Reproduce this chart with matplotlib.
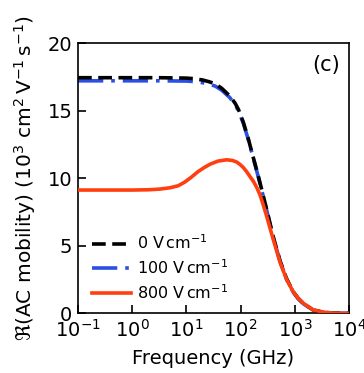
import numpy as np
import matplotlib
matplotlib.use("Agg")
import matplotlib.pyplot as plt

# log10 of frequency (GHz) and real AC mobility (10^3 cm^2 V^-1 s^-1)
logf_0 = [-1.0, 0.0, 0.5, 1.0, 1.13, 1.3, 1.42, 1.53, 1.65, 1.80, 1.90, 1.96, 2.05, 2.14,
          2.23, 2.33, 2.40, 2.48, 2.60, 2.73, 2.85, 2.97, 3.06, 3.16, 3.34, 3.59, 3.8, 4.0]
mu_0 = [17.45, 17.45, 17.45, 17.42, 17.38, 17.28, 17.15, 17.0, 16.67, 16.1, 15.55, 15.1, 14.15, 12.95,
        11.6, 10.1, 9.0, 7.7, 5.7, 3.85, 2.55, 1.6, 1.12, 0.72, 0.24, 0.05, 0.01, 0.0]

logf_100 = [-1.0, 0.0, 0.5, 1.0, 1.13, 1.3, 1.42, 1.53, 1.65, 1.80, 1.90, 1.96, 2.05, 2.14,
            2.23, 2.33, 2.40, 2.48, 2.60, 2.73, 2.85, 2.97, 3.06, 3.16, 3.34, 3.59, 3.8, 4.0]
mu_100 = [17.22, 17.22, 17.22, 17.2, 17.17, 17.08, 16.97, 16.83, 16.53, 15.98, 15.45, 15.0, 14.08, 12.9,
          11.55, 10.05, 8.95, 7.65, 5.65, 3.82, 2.52, 1.58, 1.1, 0.7, 0.23, 0.05, 0.01, 0.0]

logf_800 = [-1.0, -0.5, 0.0, 0.3, 0.51, 0.7, 0.85, 0.97, 1.09, 1.21, 1.33, 1.44, 1.58, 1.74,
            1.85, 1.93, 1.99, 2.05, 2.11, 2.17, 2.24, 2.30, 2.36, 2.42, 2.48, 2.60, 2.73,
            2.85, 2.97, 3.06, 3.16, 3.34, 3.59, 3.8, 4.0]
mu_800 = [9.13, 9.13, 9.13, 9.15, 9.2, 9.3, 9.45, 9.72, 10.08, 10.48, 10.8, 11.05, 11.27, 11.37,
          11.32, 11.2, 11.02, 10.8, 10.5, 10.15, 9.75, 9.3, 8.75, 8.0, 7.2, 5.5, 3.75,
          2.5, 1.6, 1.12, 0.74, 0.25, 0.05, 0.01, 0.0]

labels = [r"0 V$\,$cm$^{-1}$", r"100 V$\,$cm$^{-1}$", r"800 V$\,$cm$^{-1}$"]
colors = ["black", "#2b4ee3", "#ff3f10"]

fig = plt.figure(figsize=(3.64, 3.73), dpi=100)
ax = fig.add_axes([0.2143, 0.160, 0.7445, 0.724])

f0 = 10 ** np.asarray(logf_0)
f100 = 10 ** np.asarray(logf_100)
f800 = 10 ** np.asarray(logf_800)

l100, = ax.plot(f100, mu_100, color=colors[1], lw=2.6, dashes=(7, 2.2, 1, 2.2),
                label=labels[1], zorder=2)
l0, = ax.plot(f0, mu_0, color=colors[0], lw=2.6, dashes=(3.8, 1.8),
              label=labels[0], zorder=3)
l800, = ax.plot(f800, mu_800, color=colors[2], lw=2.6, label=labels[2], zorder=4)

ax.set_xscale("log")
ax.set_xlim(1e-1, 1e4)
ax.set_ylim(0, 20)
ax.set_yticks([0, 5, 10, 15, 20])
ax.set_xticks([1e-1, 1e0, 1e1, 1e2, 1e3, 1e4])
ax.tick_params(axis="both", which="major", direction="in", length=6, width=1.2,
               labelsize=14, pad=4)
ax.tick_params(axis="x", which="minor", direction="in", length=3, width=0.9)
ax.tick_params(axis="y", which="minor", left=False)
for s in ax.spines.values():
    s.set_linewidth(1.2)

ax.set_xlabel("Frequency (GHz)", fontsize=14, labelpad=6)
ax.set_ylabel(r"$\Re$(AC mobility) (10$^3$ cm$^2\,$V$^{-1}\,$s$^{-1}$)", fontsize=14.5,
              labelpad=7)

ax.text(0.965, 0.92, "(c)", transform=ax.transAxes, ha="right", va="center",
        fontsize=15)

ax.legend(handles=[l0, l100, l800], loc="lower left", frameon=False, fontsize=11.5,
          handlelength=2.4, handletextpad=0.4, labelspacing=0.38,
          bbox_to_anchor=(0.0, -0.01))

fig.savefig("out.png", dpi=100)
